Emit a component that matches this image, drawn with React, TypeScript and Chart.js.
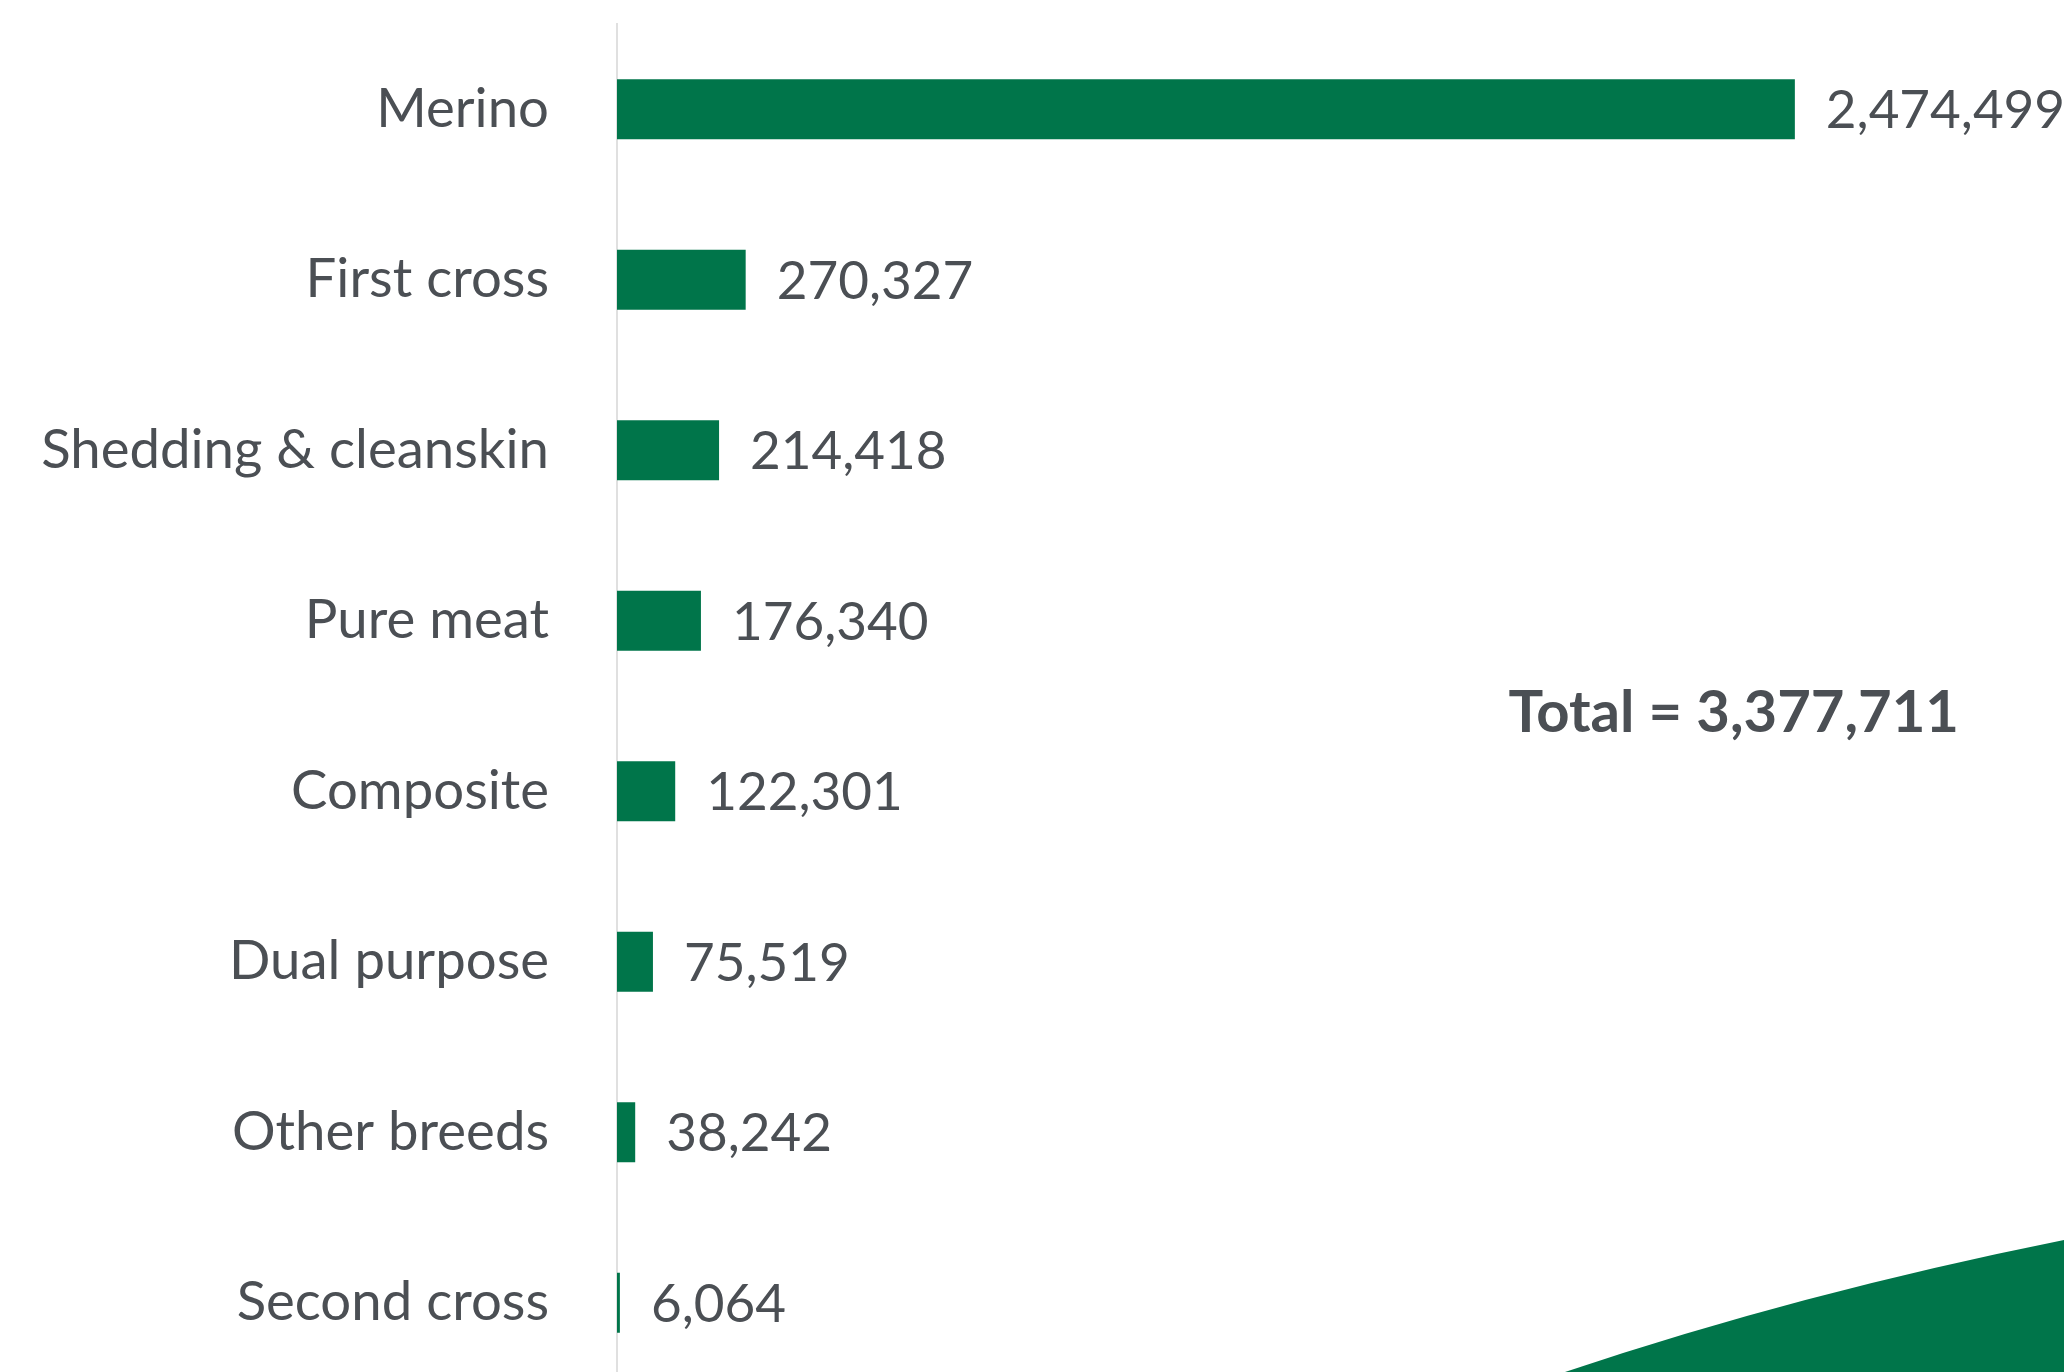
import React, { useEffect, useRef } from "react";
import { Chart, registerables } from "chart.js";

Chart.register(...registerables);

const categories = [
  "Merino",
  "First cross",
  "Shedding & cleanskin",
  "Pure meat",
  "Composite",
  "Dual purpose",
  "Other breeds",
  "Second cross",
];
const sheepCounts = [2474499, 270327, 214418, 176340, 122301, 75519, 38242, 6064];
const totalLabel = "Total = 3,377,711";

const GREEN = "#00754A";
const TEXT = "#4B4F54";
const FONT = "Lato, 'Open Sans', sans-serif";

const valueLabelPlugin = {
  id: "valueLabels",
  afterDatasetsDraw(chart: any) {
    const ctx = chart.ctx;
    const meta = chart.getDatasetMeta(0);
    ctx.save();
    ctx.fillStyle = TEXT;
    ctx.font = `53px ${FONT}`;
    ctx.textAlign = "left";
    ctx.textBaseline = "middle";
    meta.data.forEach((bar: any, i: number) => {
      const v = chart.data.datasets[0].data[i] as number;
      ctx.fillText(v.toLocaleString("en-US"), bar.x + 31, bar.y + 2);
    });
    ctx.restore();
  },
};

const decorPlugin = {
  id: "decor",
  afterDraw(chart: any) {
    const ctx = chart.ctx;
    const W = chart.width;
    const H = chart.height;
    ctx.save();
    const ca = chart.chartArea;
    ctx.fillStyle = TEXT;
    ctx.font = `bold 58px ${FONT}`;
    ctx.textAlign = "center";
    ctx.textBaseline = "middle";
    const yScale = chart.scales.y;
    const ty = (yScale.getPixelForValue(3) + yScale.getPixelForValue(4)) / 2 + 7;
    ctx.fillText(totalLabel, ca.left + (ca.right - ca.left) * 0.782, ty);
    // decorative swoosh bottom right
    ctx.fillStyle = GREEN;
    ctx.beginPath();
    ctx.moveTo(1565, 1372);
    ctx.quadraticCurveTo(1800, 1293, W, 1240);
    ctx.lineTo(W, H);
    ctx.lineTo(1565, H);
    ctx.closePath();
    ctx.fill();
    ctx.restore();
  },
};

export default function App() {
  const ref = useRef<HTMLCanvasElement | null>(null);
  useEffect(() => {
    if (!ref.current) return;
    const chart = new Chart(ref.current, {
      type: "bar",
      data: {
        labels: categories,
        datasets: [
          {
            data: sheepCounts,
            backgroundColor: GREEN,
            borderWidth: 0,
            categoryPercentage: 0.8,
            barPercentage: 0.44,
          },
        ],
      },
      options: {
        indexAxis: "y",
        responsive: false,
        animation: false,
        devicePixelRatio: 1,
        layout: { padding: { top: 24, bottom: 12, right: 19, left: 0 } },
        plugins: {
          legend: { display: false },
          tooltip: { enabled: false },
          title: { display: false },
        },
        scales: {
          x: {
            display: false,
            min: 0,
            max: 3000000,
          },
          y: {
            grid: { display: false, drawTicks: false },
            border: { display: true, color: "#E0E0E0", width: 2 },
            ticks: {
              color: TEXT,
              font: { family: FONT, size: 54.5 },
              padding: 68,
            },
            afterFit(scale: any) {
              scale.width = 617;
              scale.paddingTop = 0;
              scale.paddingBottom = 0;
            },
          },
        },
      },
      plugins: [valueLabelPlugin, decorPlugin],
    });
    return () => chart.destroy();
  }, []);
  return (
    <div
      style={{
        position: "fixed",
        left: 0,
        top: 0,
        width: 2064,
        height: 1372,
        overflow: "hidden",
        background: "#FFFFFF",
      }}
    >
      <canvas ref={ref} width={2064} height={1400} style={{ width: 2064, height: 1400, display: "block" }} />
    </div>
  );
}
